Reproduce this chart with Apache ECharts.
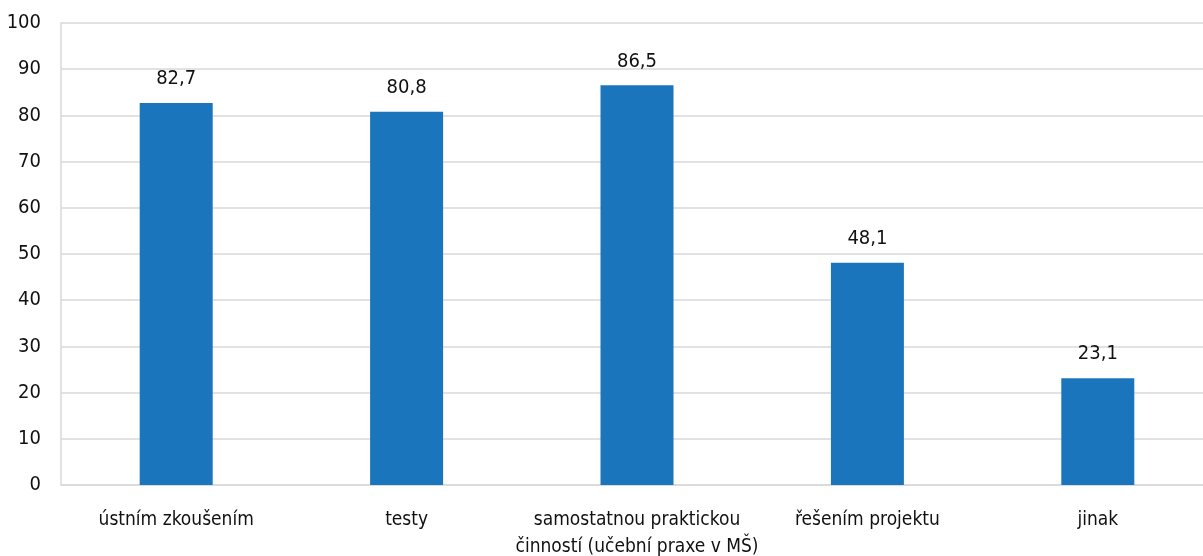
<!DOCTYPE html>
<html><head><meta charset="utf-8">
<script src="https://cdn.jsdelivr.net/npm/echarts@6/dist/echarts.min.js"></script>
<style>html,body{margin:0;padding:0;background:#fff}#c{width:1203px;height:556px}</style>
</head><body><div id="c"></div>
<script>
const categories = ['ústním zkoušením', 'testy', 'samostatnou praktickou\nčinností (učební praxe v MŠ)', 'řešením projektu', 'jinak'];
const values = [82.7, 80.8, 86.5, 48.1, 23.1];
const yTicks = [0, 10, 20, 30, 40, 50, 60, 70, 80, 90, 100];
const FONT = '"Liberation Sans Narrow", "DejaVu Sans Condensed", "Roboto Condensed", sans-serif';
const chart = echarts.init(document.getElementById('c'));
chart.setOption({
  animation: false,
  grid: { left: 61, top: 23, width: 1152, height: 462, containLabel: false, outerBoundsMode: 'none' },
  xAxis: {
    type: 'category', data: categories,
    axisLine: { lineStyle: { color: '#d9d9d9', width: 1.5 } },
    axisTick: { show: false },
    axisLabel: { color: '#111', fontFamily: FONT, fontSize: 19, margin: 22, lineHeight: 27, interval: 0 }
  },
  yAxis: {
    type: 'value', min: yTicks[0], max: yTicks[yTicks.length - 1], interval: 10,
    axisLine: { show: true, lineStyle: { color: '#d9d9d9', width: 1.5 } },
    axisTick: { show: false },
    splitLine: { lineStyle: { color: '#d9d9d9', width: 1.5 } },
    axisLabel: { color: '#111', fontFamily: FONT, fontSize: 20, margin: 20 }
  },
  series: [{
    type: 'bar', data: values, barWidth: 73,
    itemStyle: { color: '#1a75bc' },
    label: { show: true, position: 'top', distance: 14, color: '#111', fontFamily: FONT, fontSize: 20,
      formatter: p => String(p.value).replace('.', ',') }
  }]
});
</script></body></html>
